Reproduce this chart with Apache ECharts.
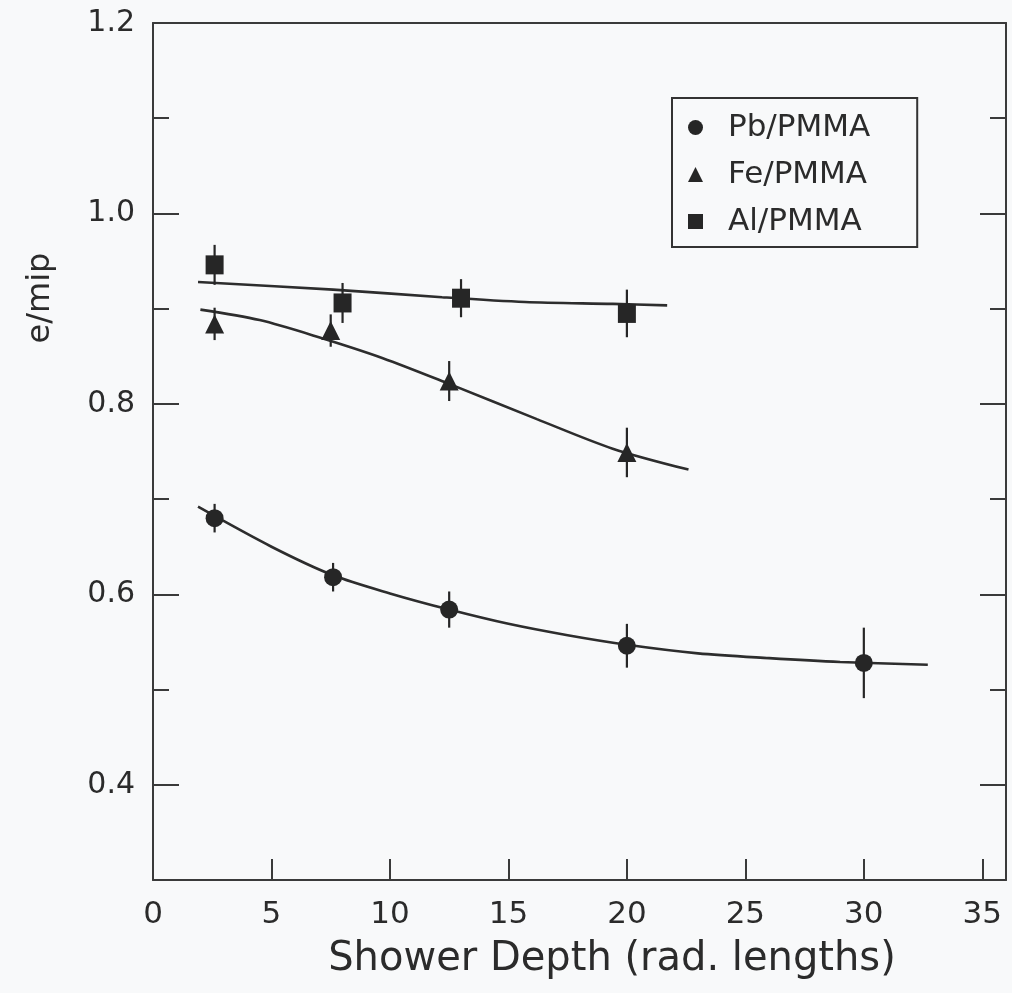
<!DOCTYPE html>
<html>
<head>
<meta charset="utf-8">
<script src="https://cdn.jsdelivr.net/npm/echarts@6/dist/echarts.min.js"></script>
<style>
  html, body { margin: 0; padding: 0; background: #f8f9fa; }
  #chart { width: 1012px; height: 993px; }
</style>
</head>
<body>
<div id="chart"></div>
<script>
// Axis ranges
const depthMin = 0, depthMax = 36, depthStep = 5;
const ratioMin = 0.3, ratioMax = 1.2, ratioMinorStep = 0.1;
const ratioLabelMin = 0.4, ratioLabelStep = 0.2;

const seriesNames = ['Pb/PMMA', 'Fe/PMMA', 'Al/PMMA'];

// Measured points: depth (rad. lengths), e/mip, uncertainty
const pbDepth = [2.6, 7.6, 12.5, 20.0, 30.0];
const pbRatio = [0.680, 0.618, 0.584, 0.546, 0.528];
const pbError = [0.015, 0.015, 0.019, 0.023, 0.037];

const feDepth = [2.6, 7.5, 12.5, 20.0];
const feRatio = [0.884, 0.877, 0.824, 0.749];
const feError = [0.017, 0.017, 0.021, 0.026];

const alDepth = [2.6, 8.0, 13.0, 20.0];
const alRatio = [0.946, 0.906, 0.911, 0.895];
const alError = [0.021, 0.021, 0.020, 0.025];

// Fitted curves: [depth, e/mip]
const pbFit = [[1.9, 0.692], [5.0, 0.650], [7.6, 0.620], [10.0, 0.601], [12.5, 0.584],
               [15.0, 0.569], [17.5, 0.557], [20.0, 0.547], [23.0, 0.538], [26.0, 0.533],
               [29.0, 0.529], [32.7, 0.526]];
const feFit = [[2.0, 0.899], [4.5, 0.888], [7.0, 0.870], [9.7, 0.848], [12.5, 0.821],
               [16.2, 0.784], [19.4, 0.753], [22.6, 0.731]];
const alFit = [[1.9, 0.928], [7.6, 0.920], [12.2, 0.912], [15.7, 0.907], [19.4, 0.905], [21.7, 0.9035]];

const FONT = 'DejaVu Sans';
const INK = '#262626';
const AXIS = '#3a3a3a';

const zip2 = (xs, ys) => xs.map((x, i) => [x, ys[i]]);
const zip3 = (xs, ys, es) => xs.map((x, i) => [x, ys[i], es[i]]);

function errorBars(name, rows) {
  return {
    name: name,
    type: 'custom',
    xAxisIndex: 0, yAxisIndex: 0,
    data: rows,
    encode: { x: 0, y: 1 },
    z: 4,
    silent: true,
    renderItem: function (params, api) {
      const x = api.value(0), y = api.value(1), e = api.value(2);
      const lo = api.coord([x, y - e]);
      const hi = api.coord([x, y + e]);
      return {
        type: 'line',
        shape: { x1: lo[0], y1: lo[1], x2: hi[0], y2: hi[1] },
        style: { stroke: INK, lineWidth: 2.2 }
      };
    }
  };
}

function fitLine(name, pts) {
  return {
    name: name,
    type: 'line',
    xAxisIndex: 0, yAxisIndex: 0,
    data: pts,
    smooth: 0.3,
    showSymbol: false,
    symbol: 'none',
    silent: true,
    z: 3,
    lineStyle: { color: '#2d2d2d', width: 2.6 }
  };
}

function points(name, symbol, size, rows) {
  return {
    name: name,
    type: 'scatter',
    xAxisIndex: 0, yAxisIndex: 0,
    data: rows,
    symbol: symbol,
    symbolSize: size,
    z: 5,
    itemStyle: { color: INK, opacity: 1 }
  };
}

const frameLine = { show: true, onZero: false, lineStyle: { color: AXIS, width: 2 } };

const chart = echarts.init(document.getElementById('chart'), null, { renderer: 'canvas' });

chart.setOption({
  animation: false,
  backgroundColor: '#f8f9fa',
  textStyle: { fontFamily: FONT },
  grid: [
    { left: 153, right: 6, top: 23, bottom: 113 },
    { left: 153, right: 6, top: 23, bottom: 208.22 }
  ],
  legend: {
    data: seriesNames,
    orient: 'vertical',
    left: 672,
    top: 98,
    padding: [14, 47, 10, 16],
    itemWidth: 15,
    itemHeight: 15,
    itemGap: 16,
    borderColor: '#333',
    borderWidth: 2,
    selectedMode: false,
    textStyle: { fontFamily: FONT, fontSize: 31, lineHeight: 30, color: '#2b2b2b', padding: [0, 0, 0, 20] }
  },
  xAxis: [
    {
      type: 'value', gridIndex: 0, position: 'bottom',
      min: depthMin, max: depthMax, interval: depthStep,
      name: 'Shower Depth (rad. lengths)',
      nameLocation: 'middle', nameGap: 60,
      nameTextStyle: { fontFamily: FONT, fontSize: 40, color: '#2b2b2b', padding: [0, 0, 0, 65] },
      axisLine: frameLine,
      axisTick: { show: true, inside: true, length: 21, lineStyle: { color: AXIS, width: 2 } },
      axisLabel: { fontFamily: FONT, fontSize: 31, color: '#2b2b2b', margin: 19, showMaxLabel: false },
      splitLine: { show: false }
    },
    {
      type: 'value', gridIndex: 0, position: 'top',
      min: depthMin, max: depthMax, interval: depthStep,
      axisLine: frameLine,
      axisTick: { show: false }, axisLabel: { show: false }, splitLine: { show: false }
    },
    {
      type: 'value', gridIndex: 1, show: false,
      min: depthMin, max: depthMax, interval: depthStep
    }
  ],
  yAxis: [
    {
      type: 'value', gridIndex: 0, position: 'left',
      min: ratioMin, max: ratioMax, interval: ratioMinorStep,
      name: 'e/mip',
      nameLocation: 'middle', nameRotate: 90, nameGap: 96,
      nameTextStyle: { fontFamily: FONT, fontSize: 32, color: '#2b2b2b', padding: [0, 0, 0, 307] },
      axisLine: frameLine,
      axisTick: { show: true, inside: true, length: 16, lineStyle: { color: AXIS, width: 2 } },
      axisLabel: { show: false }, splitLine: { show: false }
    },
    {
      type: 'value', gridIndex: 0, position: 'right',
      min: ratioMin, max: ratioMax, interval: ratioMinorStep,
      axisLine: frameLine,
      axisTick: { show: true, inside: true, length: 16, lineStyle: { color: AXIS, width: 2 } },
      axisLabel: { show: false }, splitLine: { show: false }
    },
    {
      type: 'value', gridIndex: 1, position: 'left',
      min: ratioLabelMin, max: ratioMax, interval: ratioLabelStep,
      axisLine: { show: false, onZero: false },
      axisTick: { show: true, inside: true, length: 26, lineStyle: { color: AXIS, width: 2 } },
      axisLabel: { fontFamily: FONT, fontSize: 30, color: '#2b2b2b', margin: 18,
                   formatter: v => v.toFixed(1) },
      splitLine: { show: false }
    },
    {
      type: 'value', gridIndex: 1, position: 'right',
      min: ratioLabelMin, max: ratioMax, interval: ratioLabelStep,
      axisLine: { show: false, onZero: false },
      axisTick: { show: true, inside: true, length: 26, lineStyle: { color: AXIS, width: 2 } },
      axisLabel: { show: false }, splitLine: { show: false }
    }
  ],
  series: [
    fitLine('Pb/PMMA fit', pbFit),
    fitLine('Fe/PMMA fit', feFit),
    fitLine('Al/PMMA fit', alFit),
    errorBars('Pb/PMMA error', zip3(pbDepth, pbRatio, pbError)),
    errorBars('Fe/PMMA error', zip3(feDepth, feRatio, feError)),
    errorBars('Al/PMMA error', zip3(alDepth, alRatio, alError)),
    points('Pb/PMMA', 'circle', 18, zip2(pbDepth, pbRatio)),
    points('Fe/PMMA', 'triangle', [19, 19], zip2(feDepth, feRatio)),
    points('Al/PMMA', 'rect', [18, 19], zip2(alDepth, alRatio))
  ]
});
</script>
</body>
</html>
